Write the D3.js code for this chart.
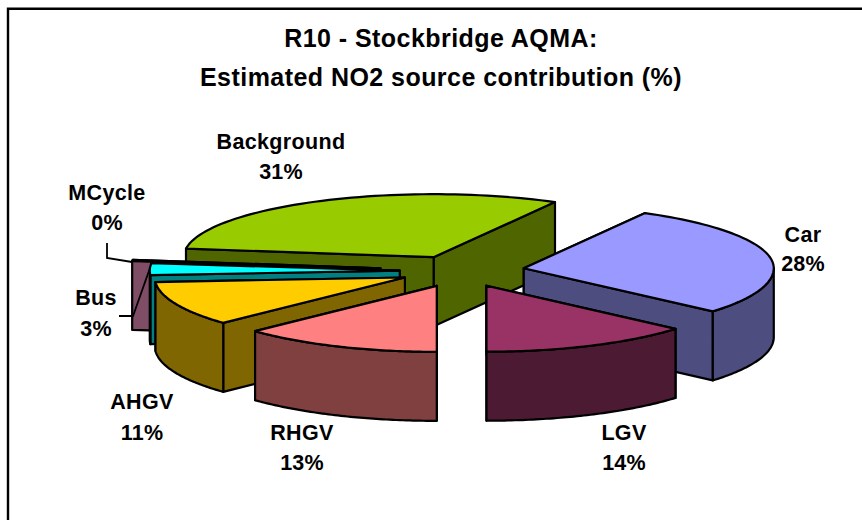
<!DOCTYPE html>
<html>
<head>
<meta charset="utf-8">
<script src="https://cdn.jsdelivr.net/npm/d3@7/dist/d3.min.js"></script>
<style>
html,body{margin:0;padding:0;background:#fff;overflow:hidden}
text{font-family:"Liberation Sans",Arial,sans-serif;font-weight:700;fill:#000;text-anchor:middle;dominant-baseline:central}
</style>
</head>
<body>
<script>
const titleLines = ["R10 - Stockbridge AQMA:", "Estimated NO2 source contribution (%)"];
const categories = ["Car", "LGV", "RHGV", "AHGV", "Bus", "MCycle", "Background"];
const values = [28.4, 13.7, 13, 11, 3, 0.3, 31];
const topColors = ["#9999FF", "#993366", "#FF8080", "#FFCC00", "#00FFFF", "#FF99CC", "#99CC00"];
const sideColors = ["#4D4D80", "#4D1A33", "#804040", "#806600", "#008080", "#804D66", "#4F6600"];
const drawOrder = ["Background", "Car", "MCycle", "Bus", "AHGV", "RHGV", "LGV"];

// layout
const W = 862, H = 520;
const centre = {x: 461, y: 271};
const radiusX = 250, radiusFront = 66, radiusBack = 63;
const depth = 69;
const explodeBy = {Car: 0.255, LGV: 0.245, RHGV: 0.245, AHGV: 0.245, Bus: 0.245, MCycle: 0.325, Background: 0.245};
const startDeg = 29.04;
const labelAt = {
  Car: [803, 235, 264], LGV: [624, 433, 463], RHGV: [302, 433, 463], AHGV: [142, 402, 433],
  Bus: [96, 298, 329], MCycle: [107, 193, 223], Background: [281, 142, 172]
};
const leaders = {
  MCycle: [[107, 243], [107, 258], [132, 262]],
  Bus: [[119, 316], [133, 316], [150, 268]]
};

const svg = d3.select("body").append("svg").attr("width", W).attr("height", H).style("display", "block");

// frame: only the left and top rules fall inside the picture
svg.append("path").attr("d", d3.line()([[8, H + 5], [8, 8.7], [W + 5, 8.7]]))
  .attr("fill", "none").attr("stroke", "#000").attr("stroke-width", 2.4);

const sx = d3.scaleLinear().domain([-1, 1]).range([-radiusX, radiusX]);
const syFront = d3.scaleLinear().domain([0, 1]).range([0, radiusFront]);
const syBack = d3.scaleLinear().domain([0, 1]).range([0, radiusBack]);
const project = (a, r) => {
  const s = Math.sin(a) * r, c = -Math.cos(a) * r;
  return [sx(s), c >= 0 ? syFront(c) : -syBack(-c)];
};

const start = startDeg * Math.PI / 180;
const arcs = d3.pie().sort(null).startAngle(start).endAngle(start + 2 * Math.PI)(values);
const line = d3.line();
const frontA = Math.PI / 2, frontB = 3 * Math.PI / 2;

const slices = arcs.map((d, i) => {
  const mid = (d.startAngle + d.endAngle) / 2;
  const off = project(mid, explodeBy[categories[i]]);
  const apex = [centre.x + off[0], centre.y + off[1]];
  const pt = (a, dy = 0) => { const p = project(a, 1); return [apex[0] + p[0], apex[1] + p[1] + dy]; };
  return {name: categories[i], top: topColors[i], side: sideColors[i], a0: d.startAngle, a1: d.endAngle, apex, pt};
});
const steps = (a0, a1) => d3.range(0, 61).map(k => a0 + (a1 - a0) * k / 60);

const gPie = svg.append("g").attr("stroke", "#000").attr("stroke-width", 2.2).attr("stroke-linejoin", "round");
drawOrder.forEach(name => {
  const s = slices.find(x => x.name === name);
  const g = gPie.append("g").attr("class", "slice");
  const apexLow = [s.apex[0], s.apex[1] + depth];
  // radial faces, the one further back first
  [s.a0, s.a1].sort((p, q) => s.pt(p)[1] - s.pt(q)[1]).forEach(a => {
    g.append("path").attr("fill", s.side)
      .attr("d", line([s.apex, s.pt(a), s.pt(a, depth), apexLow]) + "Z");
  });
  // outer wall: only the part that faces the viewer (angles modulo full turn)
  [[frontA, frontB], [frontA + 2 * Math.PI, frontB + 2 * Math.PI]].forEach(([fa, fb]) => {
    const w0 = Math.max(s.a0, fa), w1 = Math.min(s.a1, fb);
    if (w1 > w0) {
      const upper = steps(w0, w1).map(a => s.pt(a));
      const lower = steps(w1, w0).map(a => s.pt(a, depth));
      g.append("path").attr("fill", s.side).attr("d", line(upper.concat(lower)) + "Z");
    }
  });
  // top
  const rim = steps(s.a0, s.a1).map(a => s.pt(a));
  g.append("path").attr("fill", s.top).attr("d", line([s.apex].concat(rim)) + "Z");
});

// leader lines
categories.forEach(name => {
  if (leaders[name]) svg.append("path").attr("d", line(leaders[name]))
    .attr("fill", "none").attr("stroke", "#000").attr("stroke-width", 1.8);
});

// labels
categories.forEach((name, i) => {
  const [x, y1, y2] = labelAt[name];
  svg.append("text").attr("x", x).attr("y", y1).attr("font-size", 21.5).attr("letter-spacing", 0.35).text(name);
  svg.append("text").attr("x", x).attr("y", y2).attr("font-size", 21.5).attr("letter-spacing", 0.2).text(d3.format(".0f")(values[i]) + "%");
});

// title
titleLines.forEach((t, i) => {
  svg.append("text").attr("x", 441).attr("y", 38 + i * 39).attr("font-size", 25).attr("letter-spacing", 0.45).text(t);
});
</script>
</body>
</html>
